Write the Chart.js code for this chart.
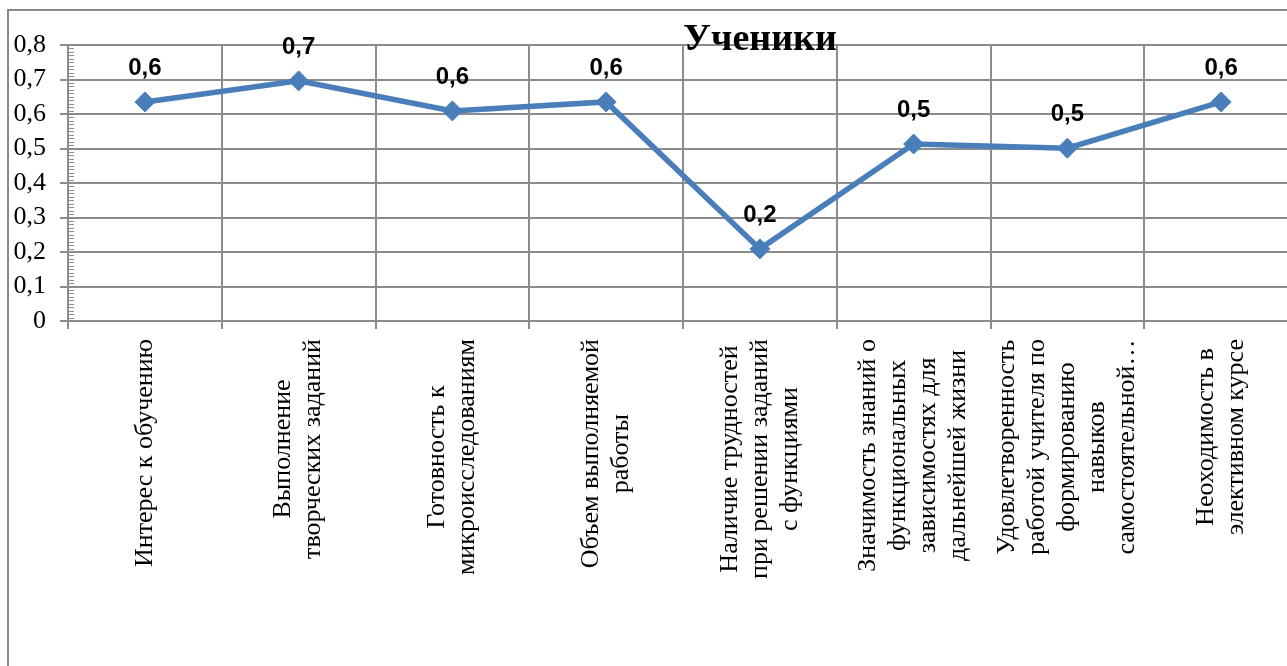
<!DOCTYPE html>
<html lang="ru">
<head>
<meta charset="utf-8">
<title>Ученики</title>
<script src="https://cdn.jsdelivr.net/npm/chart.js@4/dist/chart.umd.min.js"></script>
<style>
  html, body { margin: 0; padding: 0; background: #fff; overflow: hidden; }
  #wrap { position: relative; width: 1287px; height: 666px; overflow: hidden; }
  #frame {
    position: absolute; left: 7px; top: 9px; width: 1400px; height: 800px;
    border: 2px solid #898989; box-sizing: border-box;
  }
  #chart { position: absolute; left: 0; top: 0; }
</style>
</head>
<body>
<div id="wrap">
  <div id="frame"></div>
  <canvas id="chart" width="1320" height="666"></canvas>
</div>
<script>
// Данные диаграммы
const TITLE = 'Ученики';

const categories = [
  ['Интерес к обучению'],
  ['Выполнение', 'творческих заданий'],
  ['Готовность к', 'микроисследованиям'],
  ['Объем выполняемой', 'работы'],
  ['Наличие трудностей', 'при решении заданий', 'с функциями'],
  ['Значимость знаний о', 'функциональных', 'зависимостях для', 'дальнейшей жизни'],
  ['Удовлетворенность', 'работой учителя по', 'формированию', 'навыков', 'самостоятельной…'],
  ['Неоходимость в', 'элективном курсе']
];

const values = [0.635, 0.696, 0.609, 0.635, 0.209, 0.513, 0.501, 0.635];

const yTicks = [0, 0.1, 0.2, 0.3, 0.4, 0.5, 0.6, 0.7, 0.8];

const LINE_COLOR = '#4a7ebb';
const GRID_COLOR = '#8c8c8c';

// число с запятой, как в русской локали
function fmt(v) {
  if (v === 0) return '0';
  return Number(v).toFixed(1).replace('.', ',');
}

// мелкие деления на оси Y (через 0,01)
const minorTicks = {
  id: 'minorTicks',
  afterDatasetsDraw(chart) {
    const y = chart.scales.y;
    const left = chart.chartArea.left;
    const ctx = chart.ctx;
    ctx.save();
    ctx.strokeStyle = GRID_COLOR;
    ctx.lineWidth = 1;
    ctx.beginPath();
    const max = yTicks[yTicks.length - 1];
    for (let k = 0; k <= Math.round(max * 100); k++) {
      const py = Math.round(y.getPixelForValue(k / 100)) + 0.5;
      ctx.moveTo(left + 1, py);
      ctx.lineTo(left + 6, py);
    }
    ctx.stroke();
    ctx.restore();
  }
};

// подписи значений над точками
const valueLabels = {
  id: 'valueLabels',
  afterDatasetsDraw(chart) {
    const meta = chart.getDatasetMeta(0);
    const ctx = chart.ctx;
    ctx.save();
    ctx.font = 'bold 24px "Liberation Sans", Arial, sans-serif';
    ctx.fillStyle = '#000';
    ctx.textAlign = 'center';
    ctx.textBaseline = 'middle';
    meta.data.forEach((pt, i) => {
      ctx.fillText(fmt(values[i]), pt.x, pt.y - 34);
    });
    ctx.restore();
  }
};

// повернутые подписи категорий, строки выровнены по центру
const categoryLabels = {
  id: 'categoryLabels',
  afterDraw(chart) {
    const x = chart.scales.x;
    const ctx = chart.ctx;
    const top = chart.chartArea.bottom + 18;
    const lh = 30;
    ctx.save();
    ctx.font = '26px "Liberation Serif", "Times New Roman", serif';
    ctx.fillStyle = '#000';
    ctx.textAlign = 'center';
    ctx.textBaseline = 'middle';
    categories.forEach((lines, i) => {
      const px = x.getPixelForTick(i);
      const w = Math.max(...lines.map(l => ctx.measureText(l).width));
      ctx.save();
      ctx.translate(px, top);
      ctx.rotate(-Math.PI / 2);
      lines.forEach((line, j) => {
        ctx.fillText(line, -w / 2, (j - (lines.length - 1) / 2) * lh);
      });
      ctx.restore();
    });
    ctx.restore();
  }
};

// заголовок поверх области построения
const chartTitle = {
  id: 'chartTitle',
  afterDraw(chart) {
    const ctx = chart.ctx;
    ctx.save();
    ctx.font = 'bold 38px "Liberation Serif", "Times New Roman", serif';
    ctx.fillStyle = '#000';
    ctx.textAlign = 'center';
    ctx.textBaseline = 'alphabetic';
    ctx.fillText(TITLE, 760, 50);
    ctx.restore();
  }
};

const canvas = document.getElementById('chart');

new Chart(canvas, {
  type: 'line',
  data: {
    labels: categories.map(c => c.join(' ')),
    datasets: [{
      data: values,
      borderColor: LINE_COLOR,
      backgroundColor: LINE_COLOR,
      borderWidth: 5.5,
      pointStyle: 'rectRot',
      pointRadius: 10,
      pointBorderWidth: 1,
      pointBackgroundColor: LINE_COLOR,
      pointBorderColor: LINE_COLOR,
      tension: 0
    }]
  },
  options: {
    responsive: false,
    animation: false,
    devicePixelRatio: 1,
    layout: {
      padding: { top: 45, right: 22, bottom: 0, left: 0 }
    },
    plugins: {
      legend: { display: false },
      title: { display: false },
      tooltip: { enabled: false }
    },
    scales: {
      x: {
        type: 'category',
        offset: true,
        grid: {
          offset: true,
          color: GRID_COLOR,
          lineWidth: 2,
          drawTicks: true,
          tickLength: 8
        },
        border: { color: GRID_COLOR, width: 2 },
        ticks: { display: false },
        afterFit(scale) { scale.height = 345; }
      },
      y: {
        min: 0,
        max: 0.8,
        afterBuildTicks(scale) {
          scale.ticks = yTicks.map(v => ({ value: v }));
        },
        grid: {
          color: GRID_COLOR,
          lineWidth: 2,
          drawTicks: true,
          tickLength: 8
        },
        border: { color: GRID_COLOR, width: 2 },
        ticks: {
          padding: 14,
          color: '#000',
          font: { family: '"Liberation Serif", "Times New Roman", serif', size: 26 },
          callback: v => fmt(v)
        },
        afterFit(scale) { scale.width = 68; }
      }
    }
  },
  plugins: [minorTicks, valueLabels, categoryLabels, chartTitle]
});
</script>
</body>
</html>
